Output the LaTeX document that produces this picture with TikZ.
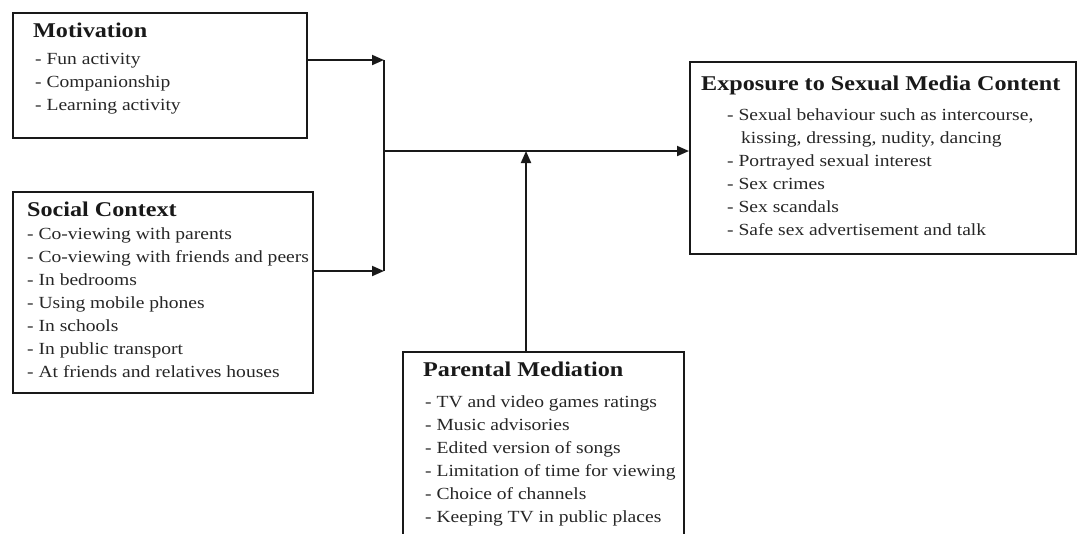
\documentclass[tikz,border=0pt]{standalone}
\usepackage{fontspec}
\setmainfont{Liberation Serif}[FakeStretch=1.15]
\usetikzlibrary{arrows.meta}
\newcommand{\headfont}{\bfseries\fontsize{21}{25}\selectfont}
\newcommand{\itemfont}{\fontsize{17}{23}\selectfont}
\tikzset{
    box/.style  =   {rectangle,
                    fill=none,
                    draw=black!90,
                    line width=1.9pt,
                    inner sep=0pt,
                    anchor=north west},
    head/.style =   {font=\headfont,
                    text=black!90,
                    inner sep=0pt,
                    anchor=base west},
    item/.style =   {font=\itemfont,
                    text=black!85,
                    inner sep=0pt,
                    anchor=base west},
    -,
    wire/.style =   {draw=black!90,
                    line width=1.9pt},
    link/.style =   {wire,
                    -{Triangle[length=12pt,width=10pt]}}}

\begin{document}
\begin{tikzpicture}[x=1pt,y=-1pt]
    \useasboundingbox (0,0) rectangle (1079,533);
    \clip (0,0) rectangle (1079,533);
    % boxes
    \node[box, minimum width=294pt, minimum height=125pt] (mot)  at (12,12)   {};
    \node[box, minimum width=300pt, minimum height=201pt] (soc)  at (12,191)  {};
    \node[box, minimum width=386pt, minimum height=192pt] (expo) at (689,61)  {};
    \node[box, minimum width=281pt, minimum height=200pt] (par)  at (402,351) {};
    % texts
    \node[head] (motH) at (33,37) {Motivation};
    \foreach \t [count=\i] in {Fun activity, Companionship, Learning activity}
        \node[item] (mot-\i) at (35,41+23*\i) {- \t};
    \node[head] (socH) at (27,216) {Social Context};
    \foreach \t [count=\i] in {Co-viewing with parents, Co-viewing with friends and peers,
            In bedrooms, Using mobile phones, In schools, In public transport,
            At friends and relatives houses}
        \node[item] (soc-\i) at (27,216+23*\i) {- \t};
    \node[head] (expoH) at (701,90) {Exposure to Sexual Media Content};
    \foreach \t [count=\i] in {{- Sexual behaviour such as intercourse,},
            {\hspace{14pt}kissing, dressing, nudity, dancing},
            - Portrayed sexual interest, - Sex crimes, - Sex scandals,
            - Safe sex advertisement and talk}
        \node[item] (expo-\i) at (727,97+23*\i) {\t};
    \node[head] (parH) at (423,376) {Parental Mediation};
    \foreach \t [count=\i] in {TV and video games ratings, Music advisories,
            Edited version of songs, Limitation of time for viewing,
            Choice of channels, Keeping TV in public places}
        \node[item] (par-\i) at (425,384+23*\i) {- \t};
    % connectors
    \coordinate (j1) at (384,60);
    \coordinate (j2) at (384,271);
    \coordinate (jm) at (384,151);
    \coordinate (jp) at (526,151);
    \draw[link] (mot.east |- j1) -- (j1);
    \draw[link] (soc.east |- j2) -- (j2);
    \draw[wire] (j1) -- (j2);
    \draw[link] (jm) -- (expo.west |- jm);
    \draw[link] (jp |- par.north) -- (jp);
\end{tikzpicture}
\end{document}
